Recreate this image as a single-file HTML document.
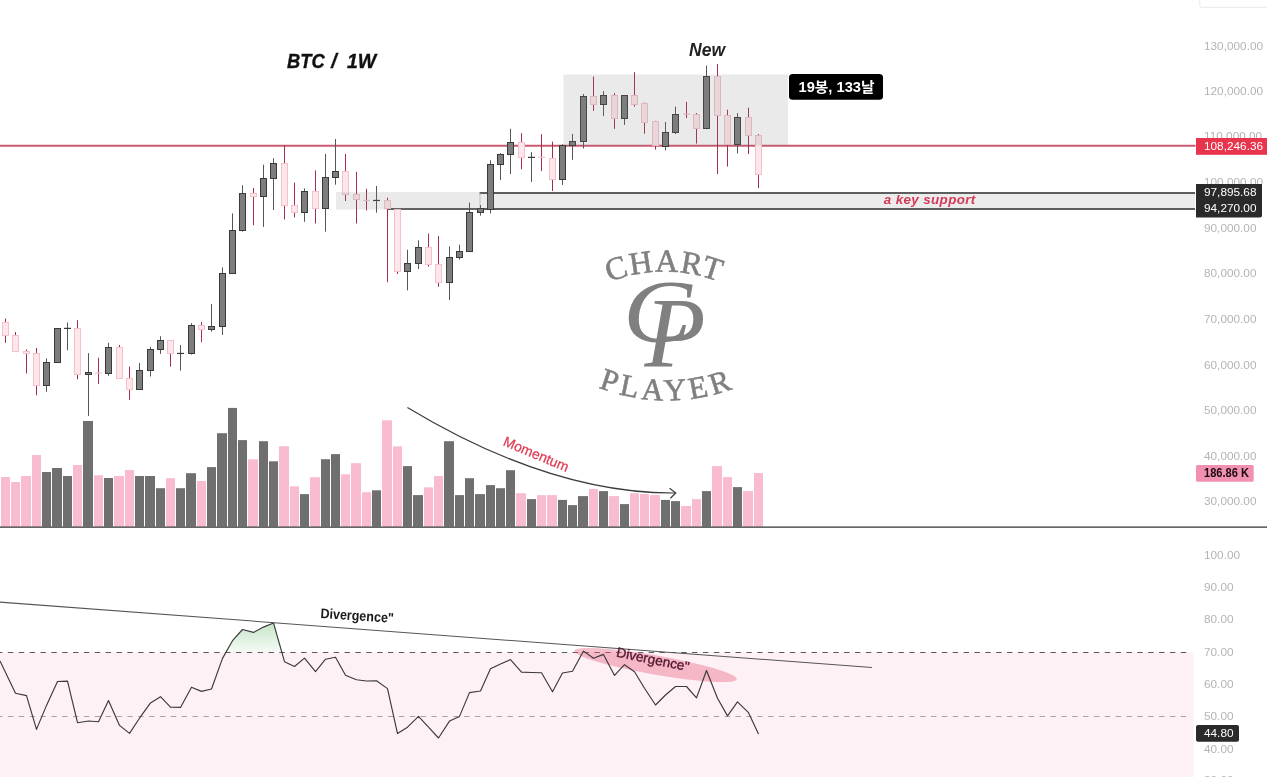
<!DOCTYPE html>
<html lang="ko"><head><meta charset="utf-8"><title>BTC / 1W</title>
<style>
html,body{margin:0;padding:0;background:#fff;}
body{width:1267px;height:777px;overflow:hidden;}
svg{display:block;}
text{font-family:"Liberation Sans","Noto Sans CJK KR",sans-serif;}
.ax{font-size:11.8px;fill:#b4b4b4;}
.lbl{font-size:11.8px;fill:#fff;}
text.serif{font-family:"Liberation Serif",serif;fill:#808080;}
</style></head><body>
<svg width="1267" height="777" viewBox="0 0 1267 777">
<defs>
<linearGradient id="gg" x1="0" y1="0" x2="0" y2="1"><stop offset="0" stop-color="#4caf50" stop-opacity="0.32"/><stop offset="1" stop-color="#4caf50" stop-opacity="0"/></linearGradient>
<path id="arcTop" d="M 596.4 288 A 150 150 0 0 1 732.6 288"/>
<path id="arcBot" d="M 589.2 383.6 A 190 190 0 0 0 745.6 383.6"/>
</defs>
<rect width="1267" height="777" fill="#ffffff"/>

<rect x="0" y="652.5" width="1193.8" height="125" fill="#fef1f6"/>
<path d="M479.6 193H1195" stroke="#5e5e5e" stroke-width="1.8" fill="none"/>
<path d="M387 209H1195" stroke="#5e5e5e" stroke-width="1.8" fill="none"/>
<path d="M480 193V209" stroke="#bdbdbd" stroke-width="0.8" fill="none"/>
<path d="M0 145.8H1195.5" stroke="#ca5a6f" stroke-width="1.9" fill="none"/>
<g>
<rect x="1" y="477" width="9" height="49.6" fill="#f8bbd0"/>
<rect x="11" y="482" width="9" height="44.6" fill="#f8bbd0"/>
<rect x="21" y="476" width="10" height="50.6" fill="#f8bbd0"/>
<rect x="32" y="455" width="9" height="71.6" fill="#f8bbd0"/>
<rect x="42" y="472" width="9" height="54.6" fill="#6f6f6f"/>
<rect x="52" y="468" width="10" height="58.6" fill="#6f6f6f"/>
<rect x="63" y="476" width="9" height="50.6" fill="#6f6f6f"/>
<rect x="73" y="465" width="9" height="61.6" fill="#f8bbd0"/>
<rect x="83" y="421" width="10" height="105.6" fill="#6f6f6f"/>
<rect x="94" y="475.3" width="9" height="51.3" fill="#f8bbd0"/>
<rect x="104" y="478" width="9" height="48.6" fill="#6f6f6f"/>
<rect x="114" y="476" width="10" height="50.6" fill="#f8bbd0"/>
<rect x="125" y="470" width="9" height="56.6" fill="#f8bbd0"/>
<rect x="135" y="476" width="9" height="50.6" fill="#6f6f6f"/>
<rect x="145" y="476" width="10" height="50.6" fill="#6f6f6f"/>
<rect x="156" y="488.2" width="9" height="38.4" fill="#6f6f6f"/>
<rect x="166" y="478.2" width="9" height="48.4" fill="#f8bbd0"/>
<rect x="176" y="488.2" width="9" height="38.4" fill="#6f6f6f"/>
<rect x="186" y="473.2" width="10" height="53.4" fill="#6f6f6f"/>
<rect x="197" y="481" width="9" height="45.6" fill="#f8bbd0"/>
<rect x="207" y="467.1" width="9" height="59.5" fill="#6f6f6f"/>
<rect x="217" y="433.2" width="10" height="93.4" fill="#6f6f6f"/>
<rect x="228" y="407.9" width="9" height="118.7" fill="#6f6f6f"/>
<rect x="238" y="440.1" width="9" height="86.5" fill="#6f6f6f"/>
<rect x="248" y="459.4" width="10" height="67.2" fill="#f8bbd0"/>
<rect x="259" y="441.2" width="9" height="85.4" fill="#6f6f6f"/>
<rect x="269" y="461.3" width="9" height="65.3" fill="#6f6f6f"/>
<rect x="279" y="446.2" width="10" height="80.4" fill="#f8bbd0"/>
<rect x="290" y="486.3" width="9" height="40.3" fill="#f8bbd0"/>
<rect x="300" y="494.1" width="9" height="32.5" fill="#6f6f6f"/>
<rect x="310" y="477.2" width="10" height="49.4" fill="#f8bbd0"/>
<rect x="321" y="459.2" width="9" height="67.4" fill="#6f6f6f"/>
<rect x="331" y="454.1" width="9" height="72.5" fill="#6f6f6f"/>
<rect x="341" y="474.3" width="9" height="52.3" fill="#f8bbd0"/>
<rect x="351" y="463.2" width="10" height="63.4" fill="#f8bbd0"/>
<rect x="362" y="492.2" width="9" height="34.4" fill="#f8bbd0"/>
<rect x="372" y="490.3" width="9" height="36.3" fill="#6f6f6f"/>
<rect x="382" y="420.3" width="10" height="106.3" fill="#f8bbd0"/>
<rect x="393" y="446.4" width="9" height="80.2" fill="#f8bbd0"/>
<rect x="403" y="466.1" width="9" height="60.5" fill="#6f6f6f"/>
<rect x="413" y="495.1" width="10" height="31.5" fill="#6f6f6f"/>
<rect x="424" y="487.4" width="9" height="39.2" fill="#f8bbd0"/>
<rect x="434" y="476.1" width="9" height="50.5" fill="#f8bbd0"/>
<rect x="444" y="441.2" width="10" height="85.4" fill="#6f6f6f"/>
<rect x="455" y="495.1" width="9" height="31.5" fill="#6f6f6f"/>
<rect x="465" y="478.2" width="9" height="48.4" fill="#6f6f6f"/>
<rect x="475" y="494.1" width="10" height="32.5" fill="#6f6f6f"/>
<rect x="486" y="485.1" width="9" height="41.5" fill="#6f6f6f"/>
<rect x="496" y="488.2" width="9" height="38.4" fill="#6f6f6f"/>
<rect x="506" y="470.2" width="9" height="56.4" fill="#6f6f6f"/>
<rect x="516" y="493.2" width="10" height="33.4" fill="#f8bbd0"/>
<rect x="527" y="499.1" width="9" height="27.5" fill="#6f6f6f"/>
<rect x="537" y="495.1" width="9" height="31.5" fill="#f8bbd0"/>
<rect x="547" y="495.1" width="10" height="31.5" fill="#f8bbd0"/>
<rect x="558" y="499.9" width="9" height="26.7" fill="#6f6f6f"/>
<rect x="568" y="505.1" width="9" height="21.5" fill="#6f6f6f"/>
<rect x="578" y="496.1" width="10" height="30.5" fill="#6f6f6f"/>
<rect x="589" y="489" width="9" height="37.6" fill="#f8bbd0"/>
<rect x="599" y="491.1" width="9" height="35.5" fill="#6f6f6f"/>
<rect x="609" y="496.1" width="10" height="30.5" fill="#f8bbd0"/>
<rect x="620" y="504.1" width="9" height="22.5" fill="#6f6f6f"/>
<rect x="630" y="493.2" width="9" height="33.4" fill="#f8bbd0"/>
<rect x="640" y="494" width="9" height="32.6" fill="#f8bbd0"/>
<rect x="650" y="495.1" width="10" height="31.5" fill="#f8bbd0"/>
<rect x="661" y="499.9" width="9" height="26.7" fill="#6f6f6f"/>
<rect x="671" y="501.1" width="9" height="25.5" fill="#6f6f6f"/>
<rect x="681" y="506" width="10" height="20.6" fill="#f8bbd0"/>
<rect x="692" y="499.1" width="9" height="27.5" fill="#f8bbd0"/>
<rect x="702" y="491.1" width="9" height="35.5" fill="#6f6f6f"/>
<rect x="712" y="466.1" width="10" height="60.5" fill="#f8bbd0"/>
<rect x="723" y="477.1" width="9" height="49.5" fill="#f8bbd0"/>
<rect x="733" y="487.1" width="9" height="39.5" fill="#6f6f6f"/>
<rect x="743" y="491.1" width="10" height="35.5" fill="#f8bbd0"/>
<rect x="754" y="473.1" width="9" height="53.5" fill="#f8bbd0"/>
</g>
<path d="M0 527.2H1267" stroke="#333" stroke-width="1.2" fill="none"/>
<g>
<path d="M5.5 318.5V322.5" stroke="#a52d4b" stroke-width="1"/>
<path d="M5.5 335.5V342.8" stroke="#a52d4b" stroke-width="1"/>
<rect x="2.5" y="322.5" width="6" height="13" fill="#fde7ea" stroke="#f4c0c9" stroke-width="1"/>
<path d="M15.5 332V335.5" stroke="#a52d4b" stroke-width="1"/>
<rect x="12.5" y="335.5" width="6" height="16" fill="#fde7ea" stroke="#f4c0c9" stroke-width="1"/>
<path d="M26.5 349.6V351.5" stroke="#a52d4b" stroke-width="1"/>
<path d="M26.5 353.5V373.4" stroke="#a52d4b" stroke-width="1"/>
<rect x="23.5" y="351.5" width="6" height="2" fill="#fde7ea" stroke="#f4c0c9" stroke-width="1"/>
<path d="M36.5 348V353.5" stroke="#a52d4b" stroke-width="1"/>
<path d="M36.5 385.5V395.3" stroke="#a52d4b" stroke-width="1"/>
<rect x="33.5" y="353.5" width="6" height="32" fill="#fde7ea" stroke="#f4c0c9" stroke-width="1"/>
<path d="M46.5 358.4V362.5" stroke="#555555" stroke-width="1"/>
<path d="M46.5 385.5V391.8" stroke="#555555" stroke-width="1"/>
<rect x="43.5" y="362.5" width="6" height="23" fill="#7d7d7d" stroke="#3a3a3a" stroke-width="1"/>
<rect x="54.5" y="328.5" width="6" height="34" fill="#7d7d7d" stroke="#3a3a3a" stroke-width="1"/>
<path d="M67.5 322.5V350.3" stroke="#555555" stroke-width="1"/>
<path d="M64 328.4H71" stroke="#3a3a3a" stroke-width="1.2"/>
<path d="M77.5 320.2V328.5" stroke="#a52d4b" stroke-width="1"/>
<path d="M77.5 374.5V379.4" stroke="#a52d4b" stroke-width="1"/>
<rect x="74.5" y="328.5" width="6" height="46" fill="#fde7ea" stroke="#f4c0c9" stroke-width="1"/>
<path d="M88.5 353.2V372.5" stroke="#555555" stroke-width="1"/>
<path d="M88.5 374.5V415.9" stroke="#555555" stroke-width="1"/>
<rect x="85.5" y="372.5" width="6" height="2" fill="#7d7d7d" stroke="#3a3a3a" stroke-width="1"/>
<path d="M98.5 357.8V383.9" stroke="#a52d4b" stroke-width="1"/>
<path d="M95 373.1H102" stroke="#f4c0c9" stroke-width="1.2"/>
<path d="M108.5 342.8V347.5" stroke="#555555" stroke-width="1"/>
<path d="M108.5 373.5V375.8" stroke="#555555" stroke-width="1"/>
<rect x="105.5" y="347.5" width="6" height="26" fill="#7d7d7d" stroke="#3a3a3a" stroke-width="1"/>
<path d="M119.5 345V347.5" stroke="#a52d4b" stroke-width="1"/>
<rect x="116.5" y="347.5" width="6" height="31" fill="#fde7ea" stroke="#f4c0c9" stroke-width="1"/>
<path d="M129.5 366.6V378.5" stroke="#a52d4b" stroke-width="1"/>
<path d="M129.5 389.5V399.9" stroke="#a52d4b" stroke-width="1"/>
<rect x="126.5" y="378.5" width="6" height="11" fill="#fde7ea" stroke="#f4c0c9" stroke-width="1"/>
<path d="M139.5 363V370.5" stroke="#555555" stroke-width="1"/>
<rect x="136.5" y="370.5" width="6" height="19" fill="#7d7d7d" stroke="#3a3a3a" stroke-width="1"/>
<path d="M150.5 346.8V349.5" stroke="#555555" stroke-width="1"/>
<path d="M150.5 370.5V376.5" stroke="#555555" stroke-width="1"/>
<rect x="147.5" y="349.5" width="6" height="21" fill="#7d7d7d" stroke="#3a3a3a" stroke-width="1"/>
<path d="M160.5 336.2V340.5" stroke="#555555" stroke-width="1"/>
<path d="M160.5 349.5V353.9" stroke="#555555" stroke-width="1"/>
<rect x="157.5" y="340.5" width="6" height="9" fill="#7d7d7d" stroke="#3a3a3a" stroke-width="1"/>
<path d="M170.5 353.5V366.6" stroke="#a52d4b" stroke-width="1"/>
<rect x="167.5" y="340.5" width="6" height="13" fill="#fde7ea" stroke="#f4c0c9" stroke-width="1"/>
<path d="M180.5 345V370.5" stroke="#555555" stroke-width="1"/>
<path d="M177 353.45H184" stroke="#3a3a3a" stroke-width="1.2"/>
<path d="M191.5 323.2V325.5" stroke="#555555" stroke-width="1"/>
<path d="M191.5 353.5V354.6" stroke="#555555" stroke-width="1"/>
<rect x="188.5" y="325.5" width="6" height="28" fill="#7d7d7d" stroke="#3a3a3a" stroke-width="1"/>
<path d="M201.5 321.9V325.5" stroke="#a52d4b" stroke-width="1"/>
<path d="M201.5 329.5V342.2" stroke="#a52d4b" stroke-width="1"/>
<rect x="198.5" y="325.5" width="6" height="4" fill="#fde7ea" stroke="#f4c0c9" stroke-width="1"/>
<path d="M211.5 304V326.5" stroke="#555555" stroke-width="1"/>
<path d="M211.5 329.5V331.6" stroke="#555555" stroke-width="1"/>
<rect x="208.5" y="326.5" width="6" height="3" fill="#7d7d7d" stroke="#3a3a3a" stroke-width="1"/>
<path d="M222.5 267.4V273.5" stroke="#555555" stroke-width="1"/>
<path d="M222.5 326.5V335" stroke="#555555" stroke-width="1"/>
<rect x="219.5" y="273.5" width="6" height="53" fill="#7d7d7d" stroke="#3a3a3a" stroke-width="1"/>
<path d="M232.5 213.4V230.5" stroke="#555555" stroke-width="1"/>
<rect x="229.5" y="230.5" width="6" height="43" fill="#7d7d7d" stroke="#3a3a3a" stroke-width="1"/>
<path d="M242.5 185.3V193.5" stroke="#555555" stroke-width="1"/>
<path d="M242.5 230.5V231.6" stroke="#555555" stroke-width="1"/>
<rect x="239.5" y="193.5" width="6" height="37" fill="#7d7d7d" stroke="#3a3a3a" stroke-width="1"/>
<path d="M253.5 188V193.5" stroke="#a52d4b" stroke-width="1"/>
<path d="M253.5 196.5V225.3" stroke="#a52d4b" stroke-width="1"/>
<rect x="250.5" y="193.5" width="6" height="3" fill="#fde7ea" stroke="#f4c0c9" stroke-width="1"/>
<path d="M263.5 164.7V178.5" stroke="#555555" stroke-width="1"/>
<path d="M263.5 196.5V226.9" stroke="#555555" stroke-width="1"/>
<rect x="260.5" y="178.5" width="6" height="18" fill="#7d7d7d" stroke="#3a3a3a" stroke-width="1"/>
<path d="M273.5 158.2V163.5" stroke="#555555" stroke-width="1"/>
<path d="M273.5 178.5V210" stroke="#555555" stroke-width="1"/>
<rect x="270.5" y="163.5" width="6" height="15" fill="#7d7d7d" stroke="#3a3a3a" stroke-width="1"/>
<path d="M284.5 145.1V163.5" stroke="#a52d4b" stroke-width="1"/>
<path d="M284.5 205.5V219.5" stroke="#a52d4b" stroke-width="1"/>
<rect x="281.5" y="163.5" width="6" height="42" fill="#fde7ea" stroke="#f4c0c9" stroke-width="1"/>
<path d="M294.5 182.6V205.5" stroke="#a52d4b" stroke-width="1"/>
<path d="M294.5 212.5V217.4" stroke="#a52d4b" stroke-width="1"/>
<rect x="291.5" y="205.5" width="6" height="7" fill="#fde7ea" stroke="#f4c0c9" stroke-width="1"/>
<path d="M304.5 188.4V191.5" stroke="#555555" stroke-width="1"/>
<path d="M304.5 212.5V221.8" stroke="#555555" stroke-width="1"/>
<rect x="301.5" y="191.5" width="6" height="21" fill="#7d7d7d" stroke="#3a3a3a" stroke-width="1"/>
<path d="M315.5 170.4V191.5" stroke="#a52d4b" stroke-width="1"/>
<path d="M315.5 208.5V223.5" stroke="#a52d4b" stroke-width="1"/>
<rect x="312.5" y="191.5" width="6" height="17" fill="#fde7ea" stroke="#f4c0c9" stroke-width="1"/>
<path d="M325.5 153.9V177.5" stroke="#555555" stroke-width="1"/>
<path d="M325.5 208.5V231.6" stroke="#555555" stroke-width="1"/>
<rect x="322.5" y="177.5" width="6" height="31" fill="#7d7d7d" stroke="#3a3a3a" stroke-width="1"/>
<path d="M335.5 139V171.5" stroke="#555555" stroke-width="1"/>
<path d="M335.5 177.5V184.7" stroke="#555555" stroke-width="1"/>
<rect x="332.5" y="171.5" width="6" height="6" fill="#7d7d7d" stroke="#3a3a3a" stroke-width="1"/>
<path d="M345.5 153.9V171.5" stroke="#a52d4b" stroke-width="1"/>
<path d="M345.5 194.5V201" stroke="#a52d4b" stroke-width="1"/>
<rect x="342.5" y="171.5" width="6" height="23" fill="#fde7ea" stroke="#f4c0c9" stroke-width="1"/>
<path d="M356.5 171.8V194.5" stroke="#a52d4b" stroke-width="1"/>
<path d="M356.5 199.5V223.5" stroke="#a52d4b" stroke-width="1"/>
<rect x="353.5" y="194.5" width="6" height="5" fill="#fde7ea" stroke="#f4c0c9" stroke-width="1"/>
<path d="M366.5 188.8V210.4" stroke="#a52d4b" stroke-width="1"/>
<path d="M363 200.4H370" stroke="#f4c0c9" stroke-width="1.2"/>
<path d="M376.5 186V212.7" stroke="#555555" stroke-width="1"/>
<path d="M373 200.45H380" stroke="#3a3a3a" stroke-width="1.2"/>
<path d="M387.5 197.7V200.5" stroke="#a52d4b" stroke-width="1"/>
<path d="M387.5 208.5V282.2" stroke="#a52d4b" stroke-width="1"/>
<rect x="384.5" y="200.5" width="6" height="8" fill="#fde7ea" stroke="#f4c0c9" stroke-width="1"/>
<path d="M397.5 271.5V274" stroke="#a52d4b" stroke-width="1"/>
<rect x="394.5" y="209.5" width="6" height="62" fill="#fde7ea" stroke="#f4c0c9" stroke-width="1"/>
<path d="M407.5 249.7V263.5" stroke="#555555" stroke-width="1"/>
<path d="M407.5 271.5V290.3" stroke="#555555" stroke-width="1"/>
<rect x="404.5" y="263.5" width="6" height="8" fill="#7d7d7d" stroke="#3a3a3a" stroke-width="1"/>
<path d="M418.5 240.3V247.5" stroke="#555555" stroke-width="1"/>
<path d="M418.5 263.5V269" stroke="#555555" stroke-width="1"/>
<rect x="415.5" y="247.5" width="6" height="16" fill="#7d7d7d" stroke="#3a3a3a" stroke-width="1"/>
<path d="M428.5 233.5V247.5" stroke="#a52d4b" stroke-width="1"/>
<path d="M428.5 264.5V266.6" stroke="#a52d4b" stroke-width="1"/>
<rect x="425.5" y="247.5" width="6" height="17" fill="#fde7ea" stroke="#f4c0c9" stroke-width="1"/>
<path d="M438.5 236V264.5" stroke="#a52d4b" stroke-width="1"/>
<path d="M438.5 282.5V286.9" stroke="#a52d4b" stroke-width="1"/>
<rect x="435.5" y="264.5" width="6" height="18" fill="#fde7ea" stroke="#f4c0c9" stroke-width="1"/>
<path d="M449.5 246.4V257.5" stroke="#555555" stroke-width="1"/>
<path d="M449.5 282.5V300" stroke="#555555" stroke-width="1"/>
<rect x="446.5" y="257.5" width="6" height="25" fill="#7d7d7d" stroke="#3a3a3a" stroke-width="1"/>
<path d="M459.5 244.7V251.5" stroke="#555555" stroke-width="1"/>
<path d="M459.5 257.5V259.6" stroke="#555555" stroke-width="1"/>
<rect x="456.5" y="251.5" width="6" height="6" fill="#7d7d7d" stroke="#3a3a3a" stroke-width="1"/>
<path d="M469.5 202.6V212.5" stroke="#555555" stroke-width="1"/>
<rect x="466.5" y="212.5" width="6" height="39" fill="#7d7d7d" stroke="#3a3a3a" stroke-width="1"/>
<path d="M480.5 205V208.5" stroke="#555555" stroke-width="1"/>
<path d="M480.5 212.5V215.6" stroke="#555555" stroke-width="1"/>
<rect x="477.5" y="208.5" width="6" height="4" fill="#7d7d7d" stroke="#3a3a3a" stroke-width="1"/>
<path d="M490.5 160.3V164.5" stroke="#555555" stroke-width="1"/>
<path d="M490.5 209.5V213.5" stroke="#555555" stroke-width="1"/>
<rect x="487.5" y="164.5" width="6" height="45" fill="#7d7d7d" stroke="#3a3a3a" stroke-width="1"/>
<path d="M500.5 153.1V154.5" stroke="#555555" stroke-width="1"/>
<path d="M500.5 164.5V180.1" stroke="#555555" stroke-width="1"/>
<rect x="497.5" y="154.5" width="6" height="10" fill="#7d7d7d" stroke="#3a3a3a" stroke-width="1"/>
<path d="M510.5 128.8V142.5" stroke="#555555" stroke-width="1"/>
<path d="M510.5 154.5V174" stroke="#555555" stroke-width="1"/>
<rect x="507.5" y="142.5" width="6" height="12" fill="#7d7d7d" stroke="#3a3a3a" stroke-width="1"/>
<path d="M521.5 133.2V142.5" stroke="#a52d4b" stroke-width="1"/>
<path d="M521.5 157.5V169.3" stroke="#a52d4b" stroke-width="1"/>
<rect x="518.5" y="142.5" width="6" height="15" fill="#fde7ea" stroke="#f4c0c9" stroke-width="1"/>
<path d="M531.5 152.2V181.9" stroke="#555555" stroke-width="1"/>
<path d="M528 157.35H535" stroke="#3a3a3a" stroke-width="1.2"/>
<path d="M541.5 134.2V171.1" stroke="#a52d4b" stroke-width="1"/>
<path d="M538 157.3H545" stroke="#f4c0c9" stroke-width="1.2"/>
<path d="M552.5 141.6V158.5" stroke="#a52d4b" stroke-width="1"/>
<path d="M552.5 179.5V191" stroke="#a52d4b" stroke-width="1"/>
<rect x="549.5" y="158.5" width="6" height="21" fill="#fde7ea" stroke="#f4c0c9" stroke-width="1"/>
<path d="M562.5 144.3V145.5" stroke="#555555" stroke-width="1"/>
<path d="M562.5 179.5V184.9" stroke="#555555" stroke-width="1"/>
<rect x="559.5" y="145.5" width="6" height="34" fill="#7d7d7d" stroke="#3a3a3a" stroke-width="1"/>
<path d="M572.5 134V141.5" stroke="#555555" stroke-width="1"/>
<path d="M572.5 145.5V159.8" stroke="#555555" stroke-width="1"/>
<rect x="569.5" y="141.5" width="6" height="4" fill="#7d7d7d" stroke="#3a3a3a" stroke-width="1"/>
<path d="M583.5 94V96.5" stroke="#555555" stroke-width="1"/>
<path d="M583.5 141.5V148.5" stroke="#555555" stroke-width="1"/>
<rect x="580.5" y="96.5" width="6" height="45" fill="#7d7d7d" stroke="#3a3a3a" stroke-width="1"/>
<path d="M593.5 76.5V96.5" stroke="#a52d4b" stroke-width="1"/>
<path d="M593.5 104.5V110.9" stroke="#a52d4b" stroke-width="1"/>
<rect x="590.5" y="96.5" width="6" height="8" fill="#fde7ea" stroke="#f4c0c9" stroke-width="1"/>
<path d="M603.5 91.1V95.5" stroke="#555555" stroke-width="1"/>
<path d="M603.5 104.5V116.1" stroke="#555555" stroke-width="1"/>
<rect x="600.5" y="95.5" width="6" height="9" fill="#7d7d7d" stroke="#3a3a3a" stroke-width="1"/>
<path d="M614.5 93.1V95.5" stroke="#a52d4b" stroke-width="1"/>
<path d="M614.5 118.5V128.9" stroke="#a52d4b" stroke-width="1"/>
<rect x="611.5" y="95.5" width="6" height="23" fill="#fde7ea" stroke="#f4c0c9" stroke-width="1"/>
<path d="M624.5 118.5V124.9" stroke="#555555" stroke-width="1"/>
<rect x="621.5" y="95.5" width="6" height="23" fill="#7d7d7d" stroke="#3a3a3a" stroke-width="1"/>
<path d="M634.5 72.2V95.5" stroke="#a52d4b" stroke-width="1"/>
<path d="M634.5 104.5V106.6" stroke="#a52d4b" stroke-width="1"/>
<rect x="631.5" y="95.5" width="6" height="9" fill="#fde7ea" stroke="#f4c0c9" stroke-width="1"/>
<path d="M644.5 102.6V103.5" stroke="#a52d4b" stroke-width="1"/>
<path d="M644.5 122.5V133.6" stroke="#a52d4b" stroke-width="1"/>
<rect x="641.5" y="103.5" width="6" height="19" fill="#fde7ea" stroke="#f4c0c9" stroke-width="1"/>
<path d="M655.5 120.8V121.5" stroke="#a52d4b" stroke-width="1"/>
<path d="M655.5 145.5V149.6" stroke="#a52d4b" stroke-width="1"/>
<rect x="652.5" y="121.5" width="6" height="24" fill="#fde7ea" stroke="#f4c0c9" stroke-width="1"/>
<path d="M665.5 121.9V132.5" stroke="#555555" stroke-width="1"/>
<path d="M665.5 146.5V150.3" stroke="#555555" stroke-width="1"/>
<rect x="662.5" y="132.5" width="6" height="14" fill="#7d7d7d" stroke="#3a3a3a" stroke-width="1"/>
<path d="M675.5 106.6V114.5" stroke="#555555" stroke-width="1"/>
<path d="M675.5 132.5V134.1" stroke="#555555" stroke-width="1"/>
<rect x="672.5" y="114.5" width="6" height="18" fill="#7d7d7d" stroke="#3a3a3a" stroke-width="1"/>
<path d="M686.5 101.9V118.1" stroke="#a52d4b" stroke-width="1"/>
<path d="M683 114.05H690" stroke="#f4c0c9" stroke-width="1.2"/>
<path d="M696.5 113V114.5" stroke="#a52d4b" stroke-width="1"/>
<path d="M696.5 128.5V143.6" stroke="#a52d4b" stroke-width="1"/>
<rect x="693.5" y="114.5" width="6" height="14" fill="#fde7ea" stroke="#f4c0c9" stroke-width="1"/>
<path d="M706.5 65.6V76.5" stroke="#555555" stroke-width="1"/>
<path d="M706.5 128.5V129.2" stroke="#555555" stroke-width="1"/>
<rect x="703.5" y="76.5" width="6" height="52" fill="#7d7d7d" stroke="#3a3a3a" stroke-width="1"/>
<path d="M717.5 64.1V76.5" stroke="#a52d4b" stroke-width="1"/>
<path d="M717.5 115.5V174" stroke="#a52d4b" stroke-width="1"/>
<rect x="714.5" y="76.5" width="6" height="39" fill="#fde7ea" stroke="#f4c0c9" stroke-width="1"/>
<path d="M727.5 109.7V115.5" stroke="#a52d4b" stroke-width="1"/>
<path d="M727.5 144.5V166.6" stroke="#a52d4b" stroke-width="1"/>
<rect x="724.5" y="115.5" width="6" height="29" fill="#fde7ea" stroke="#f4c0c9" stroke-width="1"/>
<path d="M737.5 113.1V117.5" stroke="#555555" stroke-width="1"/>
<path d="M737.5 144.5V153.4" stroke="#555555" stroke-width="1"/>
<rect x="734.5" y="117.5" width="6" height="27" fill="#7d7d7d" stroke="#3a3a3a" stroke-width="1"/>
<path d="M748.5 107.7V117.5" stroke="#a52d4b" stroke-width="1"/>
<path d="M748.5 135.5V154" stroke="#a52d4b" stroke-width="1"/>
<rect x="745.5" y="117.5" width="6" height="18" fill="#fde7ea" stroke="#f4c0c9" stroke-width="1"/>
<path d="M758.5 134.1V135.5" stroke="#a52d4b" stroke-width="1"/>
<path d="M758.5 174.5V188.2" stroke="#a52d4b" stroke-width="1"/>
<rect x="755.5" y="135.5" width="6" height="39" fill="#fde7ea" stroke="#f4c0c9" stroke-width="1"/>
</g>
<rect x="563.5" y="74.5" width="224.4" height="71" fill="#808080" fill-opacity="0.165"/>
<rect x="336" y="192" width="144" height="17.5" fill="#808080" fill-opacity="0.165"/>
<rect x="480" y="193.8" width="715" height="14.4" fill="#808080" fill-opacity="0.15"/>
<path d="M407.4 407.4 Q551 494 675.8 493" stroke="#3c3c3c" stroke-width="1.2" fill="none"/>
<path d="M669.6 488.2L675.8 493L670.4 498.3" stroke="#3c3c3c" stroke-width="1.2" fill="none"/>
<text transform="translate(502.3 445.1) rotate(22.8)" font-size="13.9" fill="#df3a55" stroke="#df3a55" stroke-width="0.25">Momentum</text>
<path d="M0 652.5H1190" stroke="#5a5a5a" stroke-width="1" stroke-dasharray="5.43 5.43" stroke-dashoffset="2.96" fill="none"/>
<path d="M0 716.5H1190" stroke="#a9a3a6" stroke-width="1" stroke-dasharray="5.43 5.43" stroke-dashoffset="2.96" fill="none"/>
<path d="M224.62 652.5 L222.5 658.4 L232.5 640.7 L242.5 629.5 L253.5 632.4 L263.5 627.1 L273.5 623 L281.89 652.5Z" fill="url(#gg)"/>
<ellipse cx="655.5" cy="665" rx="82.5" ry="9.6" transform="rotate(9.9 655.5 665)" fill="#e8607f" fill-opacity="0.40"/>
<path d="M0 661 L15.5 693.2 L26.5 695.6 L36.5 729.4 L46.5 705.4 L57.5 681.5 L67.5 681.1 L77.5 722.7 L88.5 721 L98.5 721.7 L108.5 700.5 L119.5 725.4 L129.5 733.4 L139.5 718.2 L150.5 702.9 L160.5 696.7 L170.5 707.2 L180.5 707.4 L191.5 687.2 L201.5 691.4 L211.5 689 L222.5 658.4 L232.5 640.7 L242.5 629.5 L253.5 632.4 L263.5 627.1 L273.5 623 L284.5 661.7 L294.5 666.5 L304.5 658.1 L315.5 671.6 L325.5 659.2 L335.5 657.2 L345.5 675.3 L356.5 679.7 L366.5 681 L376.5 680.7 L387.5 688.6 L397.5 733.6 L407.5 727.2 L418.5 716.4 L428.5 727.2 L438.5 738 L449.5 721.1 L459.5 716.4 L469.5 692.6 L480.5 691 L490.5 668.8 L500.5 664.1 L510.5 659.6 L521.5 672.1 L531.5 672.5 L541.5 672.8 L552.5 691.8 L562.5 673 L572.5 671.3 L583.5 651.1 L593.5 658.3 L603.5 654.4 L614.5 675.4 L624.5 664.7 L634.5 671.7 L644.5 688.2 L655.5 705 L665.5 695 L675.5 686.5 L686.5 686.5 L696.5 697.9 L706.5 670.5 L717.5 698.2 L727.5 715.9 L737.5 701.9 L748.5 712.7 L758.5 734" stroke="#3a3a3a" stroke-width="1.15" fill="none" stroke-linejoin="round"/>
<path d="M0 602.1L872 667.6" stroke="#555" stroke-width="1.05" fill="none"/>
<text transform="translate(320.2 618) rotate(3.8)" font-size="14" font-weight="700" fill="#1a1a1a" textLength="73.5" lengthAdjust="spacingAndGlyphs">Divergence"</text>
<text transform="translate(615.8 656.6) rotate(11.5)" font-size="13.6" fill="#551a30" stroke="#551a30" stroke-width="0.35" textLength="74" lengthAdjust="spacingAndGlyphs">Divergence"</text>
<text y="67.8" font-size="19.6" font-weight="700" font-style="italic" fill="#111" stroke="#111" stroke-width="0.35" xml:space="preserve"><tspan x="287.1" textLength="37.6" lengthAdjust="spacingAndGlyphs">BTC</tspan><tspan> </tspan><tspan x="331.2">/</tspan><tspan> </tspan><tspan x="347" textLength="29.2" lengthAdjust="spacingAndGlyphs">1W</tspan></text>
<text x="689" y="55.9" font-size="18" font-weight="700" font-style="italic" fill="#222" textLength="36" lengthAdjust="spacingAndGlyphs">New</text>
<text x="883.8" y="203.8" font-size="13.4" font-weight="700" font-style="italic" fill="#d23a58" textLength="91.5" lengthAdjust="spacing">a key support</text>
<rect x="788.2" y="73.2" width="95.6" height="27.4" rx="4.2" fill="#fff"/>
<rect x="789" y="74" width="94" height="25.8" rx="3.6" fill="#000"/>
<text x="798.5" y="92.2" font-size="14" font-weight="700" fill="#fff" textLength="76" lengthAdjust="spacingAndGlyphs">19봉, 133날</text>
<g>
<text class="serif" font-size="32" letter-spacing="1.3" stroke="#808080" stroke-width="0.6"><textPath href="#arcTop" startOffset="50%" text-anchor="middle">CHART</textPath></text>
<text class="serif" font-size="31" letter-spacing="3.9" stroke="#808080" stroke-width="0.6"><textPath href="#arcBot" startOffset="50%" text-anchor="middle">PLAYER</textPath></text>
<text class="serif" transform="translate(623 341) scale(1.17 1)" font-size="88" font-style="italic">C</text>
<text class="serif" x="644.5" y="366.2" font-size="100" font-style="italic">P</text>
</g>
<path d="M1199.8 -2H1270V7.3H1201.8Q1199.8 7.3 1199.8 5.3Z" fill="#fff" stroke="#e9e9e9" stroke-width="1"/>
<g class="ax">
<text x="1204" y="49.5">130,000.00</text>
<text x="1204" y="94.5">120,000.00</text>
<text x="1204" y="140.2">110,000.00</text>
<text x="1204" y="185.8">100,000.00</text>
<text x="1204" y="231.5">90,000.00</text>
<text x="1204" y="277.4">80,000.00</text>
<text x="1204" y="323">70,000.00</text>
<text x="1204" y="368.6">60,000.00</text>
<text x="1204" y="414.3">50,000.00</text>
<text x="1204" y="460.4">40,000.00</text>
<text x="1204" y="505.2">30,000.00</text>
<text x="1204" y="558.8">100.00</text>
<text x="1204" y="591.1">90.00</text>
<text x="1204" y="623.4">80.00</text>
<text x="1204" y="655.7">70.00</text>
<text x="1204" y="688">60.00</text>
<text x="1204" y="720.3">50.00</text>
<text x="1204" y="752.6">40.00</text>
<text x="1204" y="784.4">30.00</text>
</g>
<rect x="1196" y="138" width="72" height="16.8" fill="#e8344c"/>
<text class="lbl" x="1204" y="149.6">108,246.36</text>
<path d="M1196 184H1262V215.6Q1262 217.6 1260 217.6H1196Z" fill="#2a2a2a"/>
<text class="lbl" x="1204" y="195.6">97,895.68</text>
<text class="lbl" x="1204" y="211.8">94,270.00</text>
<rect x="1196" y="465" width="57.7" height="16.8" rx="1.5" fill="#f290b0"/>
<text x="1204" y="477.2" font-size="12.2" font-weight="700" fill="#1c0a12" textLength="45" lengthAdjust="spacingAndGlyphs">186.86 K</text>
<rect x="1196" y="725" width="43" height="16.8" rx="2" fill="#2a2a2a"/>
<text class="lbl" x="1204" y="736.8">44.80</text>
</svg>
</body></html>
